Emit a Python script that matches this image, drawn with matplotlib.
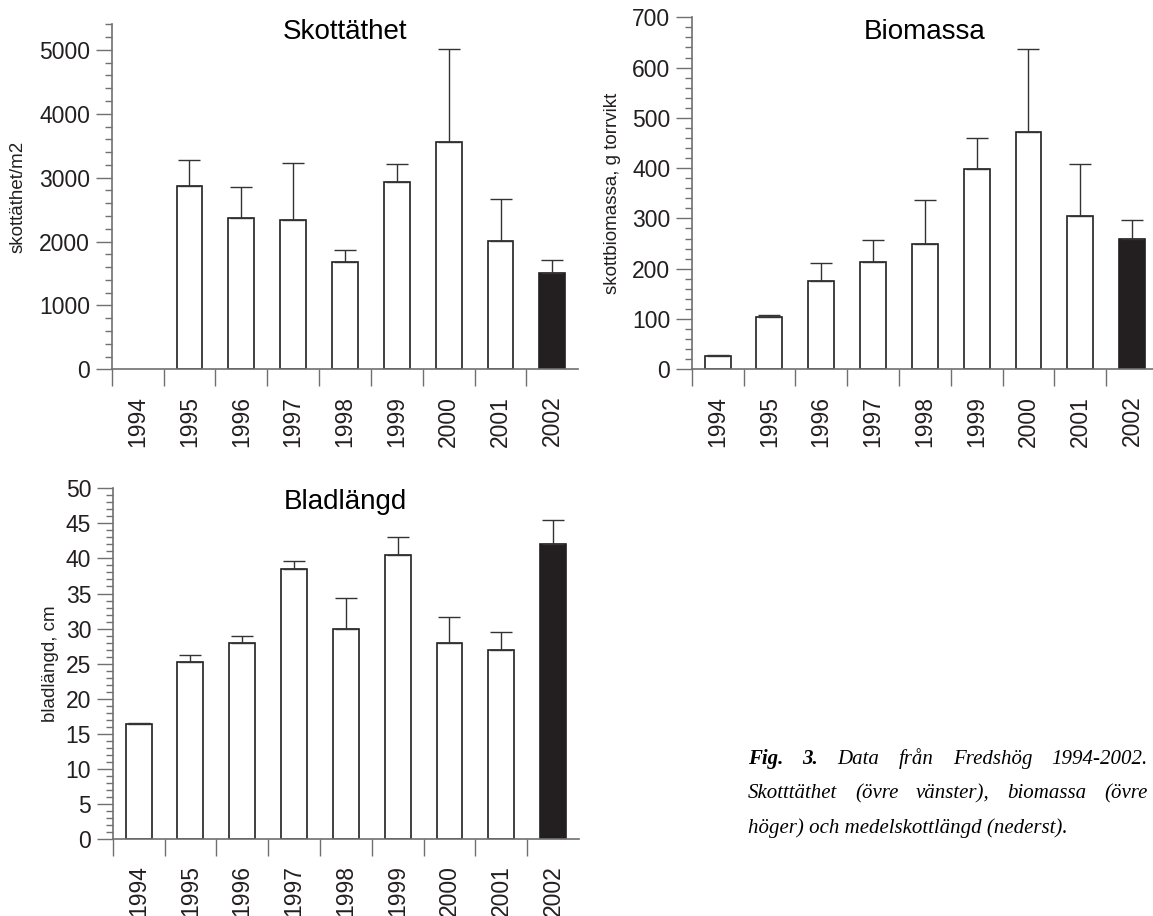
import numpy as np
import matplotlib
matplotlib.use('Agg')
import matplotlib.pyplot as plt
from matplotlib.ticker import MultipleLocator

plt.rcParams['font.family'] = ['Liberation Sans', 'DejaVu Sans']

years = ['1994', '1995', '1996', '1997', '1998', '1999', '2000', '2001', '2002']

# skottäthet (shoots per m2), mean and upper error
dens = [np.nan, 2875, 2368, 2343, 1679, 2937, 3563, 2003, 1502]
dens_err = [np.nan, 405, 485, 881, 183, 276, 1450, 662, 208]

# biomassa (g dry weight)
bio = [26.5, 104, 176.5, 213, 250, 398, 472, 305, 259]
bio_err = [2, 3, 34, 45, 86, 61, 165, 104, 38]

# bladlängd (cm)
blad = [16.4, 25.2, 28.0, 38.5, 29.9, 40.5, 28.0, 27.0, 42.0]
blad_err = [0.1, 1.1, 1.0, 1.1, 4.4, 2.5, 3.7, 2.5, 3.5]

W, H = 1153, 916
fig = plt.figure(figsize=(W / 100, H / 100), dpi=100)
gray = '#707070'
dark = '#231f20'


def add_ax(l, t, r, b):
    return fig.add_axes([l / W, 1 - b / H, (r - l) / W, (b - t) / H])


def panel(ax, vals, errs, ymax, major, minor, title, title_y, ylabel, lab_x):
    x = np.arange(len(years))
    colors = ['white'] * (len(years) - 1) + [dark]
    ax.bar(x, vals, width=0.5, color=colors, edgecolor=dark, linewidth=1.2, zorder=2)
    up = np.array(errs, dtype=float)
    ax.errorbar(x, vals, yerr=[np.zeros_like(up), up], fmt='none', ecolor='#333333',
                elinewidth=1.0, capsize=8, capthick=1.0, zorder=3)
    ax.set_xlim(-0.5, len(years) - 0.5)
    ax.set_ylim(0, ymax)
    for s in ['top', 'right']:
        ax.spines[s].set_visible(False)
    for s in ['left', 'bottom']:
        ax.spines[s].set_color(gray)
        ax.spines[s].set_linewidth(1.2)
    ax.yaxis.set_major_locator(MultipleLocator(major))
    ax.yaxis.set_minor_locator(MultipleLocator(minor))
    ax.tick_params(axis='y', which='major', length=11.5, width=1, color=gray,
                   pad=4, labelsize=16.5, labelcolor='#231f20')
    ax.tick_params(axis='y', which='minor', length=5, width=1, color=gray)
    # ticks between categories, labels at the centres
    ax.set_xticks(np.arange(-0.5, len(years) - 1, 1))
    ax.set_xticklabels([])
    ax.set_xticks(x, minor=True)
    ax.set_xticklabels(years, minor=True, rotation=90)
    ax.tick_params(axis='x', which='major', length=12.5, width=1, color=gray)
    ax.tick_params(axis='x', which='minor', length=0, pad=19, labelsize=16.5,
                   labelcolor='#231f20')
    ax.text(0.5, title_y, title, transform=ax.transAxes, ha='center', va='center',
            fontsize=20, color='black')
    ax.set_ylabel(ylabel, fontsize=13.5, va='center', color='#231f20')
    ax.yaxis.set_label_coords(lab_x, 0.5)


ax1 = add_ax(111.7, 24.4, 578.3, 369.3)
panel(ax1, dens, dens_err, 5400, 1000, 200, 'Skottäthet', 0.977, 'skottäthet/m2', -0.2)

ax2 = add_ax(691.7, 17.3, 1158, 369.3)
panel(ax2, bio, bio_err, 700, 100, 20, 'Biomassa', 0.958, 'skottbiomassa, g torrvikt', -0.169)

ax3 = add_ax(112.7, 488.3, 579, 839)
panel(ax3, blad, blad_err, 50, 5, 1, 'Bladlängd', 0.961, 'bladlängd, cm', -0.134)

# caption, justified lines
serif = ['Liberation Serif', 'DejaVu Serif']
cap_size = 15
renderer = fig.canvas.get_renderer()
x0, x1 = 748, 1148


def justified(words, base):
    items = []
    total = 0
    for w, bold in words:
        t = fig.text(0, 1 - base / H, w, family=serif, style='italic',
                     weight='bold' if bold else 'normal', fontsize=cap_size,
                     va='baseline', ha='left')
        wpx = t.get_window_extent(renderer).width
        items.append((t, wpx))
        total += wpx
    gap = (x1 - x0 - total) / (len(items) - 1)
    x = x0
    for t, wpx in items:
        t.set_x(x / W)
        x += wpx + gap


justified([('Fig.', True), ('3.', True), ('Data', False), ('från', False),
           ('Fredshög', False), ('1994-2002.', False)], 764)
justified([('Skotttäthet', False), ('(övre', False), ('vänster),', False),
           ('biomassa', False), ('(övre', False)], 798)
fig.text(x0 / W, 1 - 833 / H, 'höger) och medelskottlängd (nederst).', family=serif,
         style='italic', fontsize=cap_size, va='baseline', ha='left')

fig.savefig('out.png', dpi=100)
